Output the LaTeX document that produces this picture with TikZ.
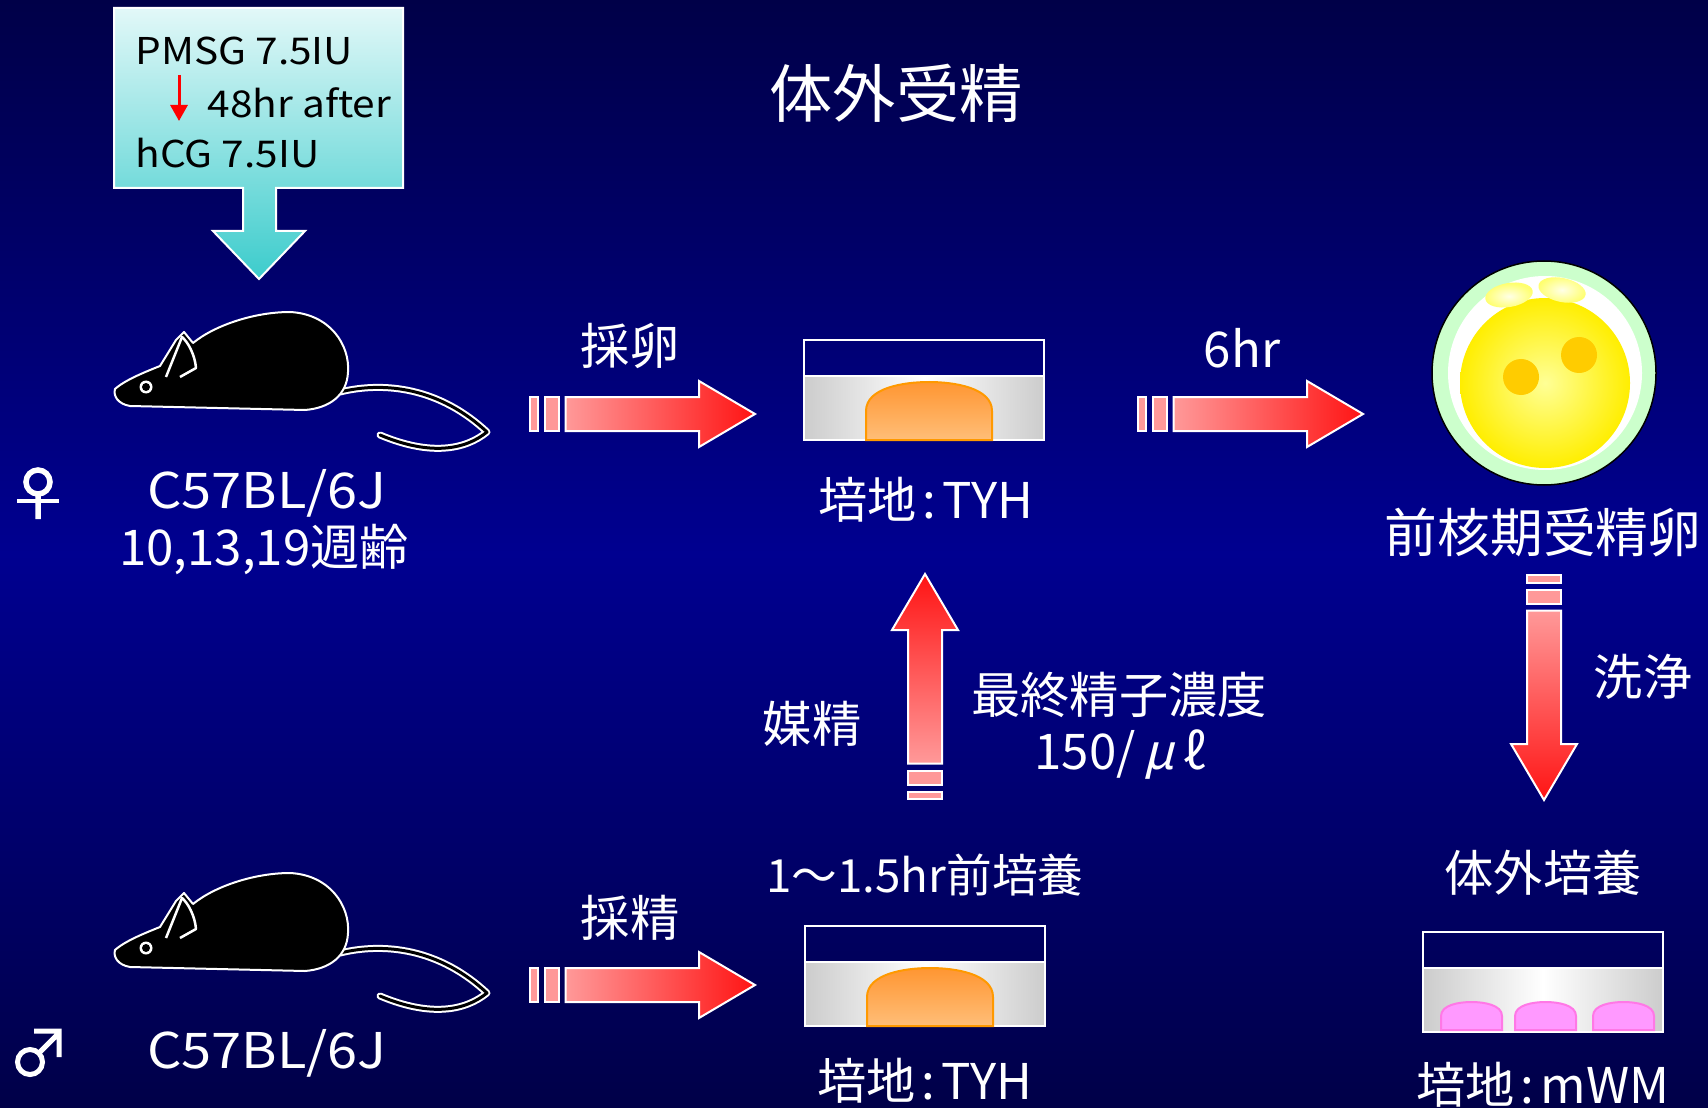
\documentclass[tikz,border=0pt]{standalone}
\usepackage{fontspec}
\setmainfont{Noto Sans CJK JP}
\usetikzlibrary{arrows.meta}

\definecolor{bgDark}{RGB}{0,0,72}
\definecolor{bgMid}{RGB}{0,0,144}
\definecolor{arrowPink}{RGB}{255,153,153}
\definecolor{arrowRed}{RGB}{255,20,20}
\definecolor{boxTop}{RGB}{226,248,248}
\definecolor{boxBottom}{RGB}{60,204,204}
\definecolor{dropTop}{RGB}{255,150,50}
\definecolor{dropBottom}{RGB}{255,190,120}
\definecolor{dropEdge}{RGB}{255,153,0}
\definecolor{wmDrop}{RGB}{255,153,255}
\definecolor{wmEdge}{RGB}{255,120,230}
\definecolor{zonaColor}{RGB}{204,255,204}
\definecolor{pnColor}{RGB}{255,204,0}

\newcommand{\titlesize}{\fontsize{18pt}{20pt}\selectfont}
\newcommand{\labelsize}{\fontsize{14pt}{16pt}\selectfont}
\newcommand{\boxsize}{\fontsize{10.5pt}{12pt}\selectfont}
\newcommand{\wide}{\addfontfeature{FakeStretch=1.1}}
\newcommand{\slanted}[1]{{\addfontfeature{FakeSlant=0.25}#1}}
\newcommand{\medium}[1]{培地\hspace{0.12em}:\hspace{0.12em}#1}

\tikzset{
	wlabel/.style={text=white, font=\labelsize, inner sep=0pt},
	boxlabel/.style={text=black, font=\boxsize\wide, inner sep=0pt, anchor=base west},
	rim/.style={draw=white, line width=0.2mm},
	% block arrow with two stripes at its tail, pointing along +x
	pics/flowarrow/.style={code={
		\path[rim, fill=arrowPink] (0,-17) rectangle (7.5,17);
		\path[rim, fill=arrowPink] (14.5,-17) rectangle (28.5,17);
		\path[rim, #1] (35.5,-17) -- (169,-17) -- (169,-33) -- (225,0)
			-- (169,33) -- (169,17) -- (35.5,17) -- cycle;
	}},
	% culture dish, origin at the top left corner
	pics/dish/.style={code={
		\path[rim] (0,0) rectangle (240,36);
		\shade[left color=gray!40, right color=gray!40, middle color=white] (0,36) rectangle (240,100);
		\path[rim] (0,36) rectangle (240,100);
	}},
	% medium drop: width, height, fill style
	pics/drop/.style n args={3}{code={
		\path[#3] (0,0) -- (0,-0.5*#2) .. controls (0,-0.9*#2) and (0.3*#1,-#2) .. (0.5*#1,-#2)
			.. controls (0.7*#1,-#2) and (#1,-0.9*#2) .. (#1,-0.5*#2) -- (#1,0) -- cycle;
	}},
	pics/mouse/.style={code={
		% tail
		\draw[white, line width=0.7mm, line cap=round, line join=round]
			(340,392) .. controls (385,381) and (440,388) .. (487,432)
			.. controls (465,450) and (430,456) .. (380,435);
		\draw[black, line width=0.3mm, line cap=round, line join=round]
			(340,392) .. controls (385,381) and (440,388) .. (487,432)
			.. controls (465,450) and (430,456) .. (380,435);
		% body
		\draw[rim, fill=black, line join=round] (115,389) .. controls (125,380) and (145,372) .. (160,366)
			-- (176,340) -- (184,332) -- (193,343)
			.. controls (215,325) and (255,312) .. (290,312)
			.. controls (330,314) and (350,345) .. (348,372)
			.. controls (347,395) and (330,408) .. (305,410)
			-- (130,406) .. controls (118,404) and (113,396) .. (115,389) -- cycle;
		% ear
		\draw[white, line width=0.25mm, line join=round] (166,377) -- (182,337)
			.. controls (188,342) and (195,355) .. (196,368) -- (180,377);
		% eye
		\fill[white] (146,387) circle (6.5);
		\fill[black] (146,387) circle (4);
	}}
}

\begin{document}
\begin{tikzpicture}[x=0.1mm, y=-0.1mm]
	\useasboundingbox (0,0) rectangle (1708,1108);
	\clip (0,0) rectangle (1708,1108);
	\shade[top color=bgDark, bottom color=bgDark, middle color=bgMid] (0,0) rectangle (1708,1108);

	\node[text=white, font=\titlesize, inner sep=0pt] (title) at (896,93) {体外受精};

	% hormone box with its arrow
	\shade[top color=boxTop, bottom color=boxBottom, draw=white, line width=0.2mm]
		(114,8) -- (403,8) -- (403,188) -- (276,188) -- (276,231) -- (305,231) -- (259,279)
		-- (213,231) -- (243,231) -- (243,188) -- (114,188) -- cycle;
	\node[boxlabel] (pmsg) at (135,65) {PMSG 7.5IU};
	\node[boxlabel] (wait) at (207,118) {48hr after};
	\node[boxlabel] (hcg) at (135,168) {hCG 7.5IU};
	\coordinate (waitTop) at (179,75);
	\coordinate (waitEnd) at (179,121);
	\draw[red, line width=0.3mm, -{Triangle[width=1.7mm,length=1.6mm]}] (waitTop) -- (waitEnd);

	% female
	\pic at (0,0) {mouse};
	\draw[white, line width=0.55mm] (38,482) circle (12) (38,494) -- (38,519);
	\draw[white, line width=0.4mm] (17,501) -- (59,501);
	\node[wlabel, font=\labelsize\wide] (femStrain) at (267,493) {C57BL/6J};
	\node[wlabel] (femAge) at (264,550) {10,13,19週齢};

	% male
	\pic at (0,561) {mouse};
	\draw[white, line width=0.5mm] (30,1062) circle (12.5);
	\draw[white, line width=0.5mm] (39,1053) -- (59,1033) (34,1031) -- (59,1031) -- (59,1057);
	\node[wlabel, font=\labelsize\wide] (maleStrain) at (267,1053) {C57BL/6J};

	% egg collection and insemination dish
	\node[wlabel] (eggCol) at (630,346) {採卵};
	\pic at (530,414) {flowarrow={left color=arrowPink, right color=arrowRed}};
	\pic at (804,340) {dish};
	\pic at (866,440) {drop={126}{58}{top color=dropTop, bottom color=dropBottom, draw=dropEdge, line width=0.2mm}};
	\node[wlabel] (tyhTop) at (926,500) {\medium{TYH}};

	% fertilised egg
	\node[wlabel] (sixHr) at (1242,348) {6hr};
	\pic at (1138,414) {flowarrow={left color=arrowPink, right color=arrowRed}};
	\draw[black, line width=0.15mm, fill=zonaColor] (1544,373) circle (112);
	\fill[white] (1545,373) circle (97);
	\shade[inner color={rgb,255:red,255;green,255;blue,150}, outer color={rgb,255:red,255;green,238;blue,0}] (1545,383) circle (85);
	\shade[rotate around={10:(1509,295)}, inner color={rgb,255:red,255;green,255;blue,230}, outer color={rgb,255:red,255;green,255;blue,110}]
		(1509,295) ellipse [x radius=24, y radius=12];
	\shade[rotate around={-12:(1562,290)}, inner color={rgb,255:red,255;green,255;blue,230}, outer color={rgb,255:red,255;green,255;blue,110}]
		(1562,290) ellipse [x radius=24, y radius=12];
	\fill[pnColor] (1521,377) circle (18);
	\fill[pnColor] (1579,355) circle (18);
	\node[wlabel, font=\fontsize{15pt}{17pt}\selectfont] (pronuc) at (1543,532) {前核期受精卵};

	% washing and culture
	\pic[rotate=-90] at (1544,575) {flowarrow={top color=arrowPink, bottom color=arrowRed}};
	\node[wlabel] (wash) at (1643,677) {洗浄};
	\node[wlabel] (culture) at (1543,873) {体外培養};
	\pic at (1423,932) {dish};
	\foreach \dx in {1441,1515,1593}
		\pic at (\dx,1030) {drop={61}{28}{fill=wmDrop, draw=wmEdge, line width=0.2mm}};
	\node[wlabel] (mwm) at (1543,1085) {\medium{mWM}};

	% sperm collection and preincubation
	\node[wlabel] (spermCol) at (630,918) {採精};
	\pic at (530,985) {flowarrow={left color=arrowPink, right color=arrowRed}};
	\node[wlabel, font=\fontsize{13pt}{15pt}\selectfont] (preinc) at (925,875) {1〜1.5hr前培養};
	\pic at (805,926) {dish};
	\pic at (867,1026) {drop={126}{58}{top color=dropTop, bottom color=dropBottom, draw=dropEdge, line width=0.2mm}};
	\node[wlabel] (tyhBottom) at (925,1081) {\medium{TYH}};

	% insemination
	\pic[rotate=90] at (925,799) {flowarrow={top color=arrowRed, bottom color=arrowPink}};
	\node[wlabel] (insem) at (812,724) {媒精};
	\node[wlabel] (conc) at (1119,695) {最終精子濃度};
	\node[wlabel] (concVal) at (1120,755) {150/\,\slanted{μ}\,ℓ};
\end{tikzpicture}
\end{document}
